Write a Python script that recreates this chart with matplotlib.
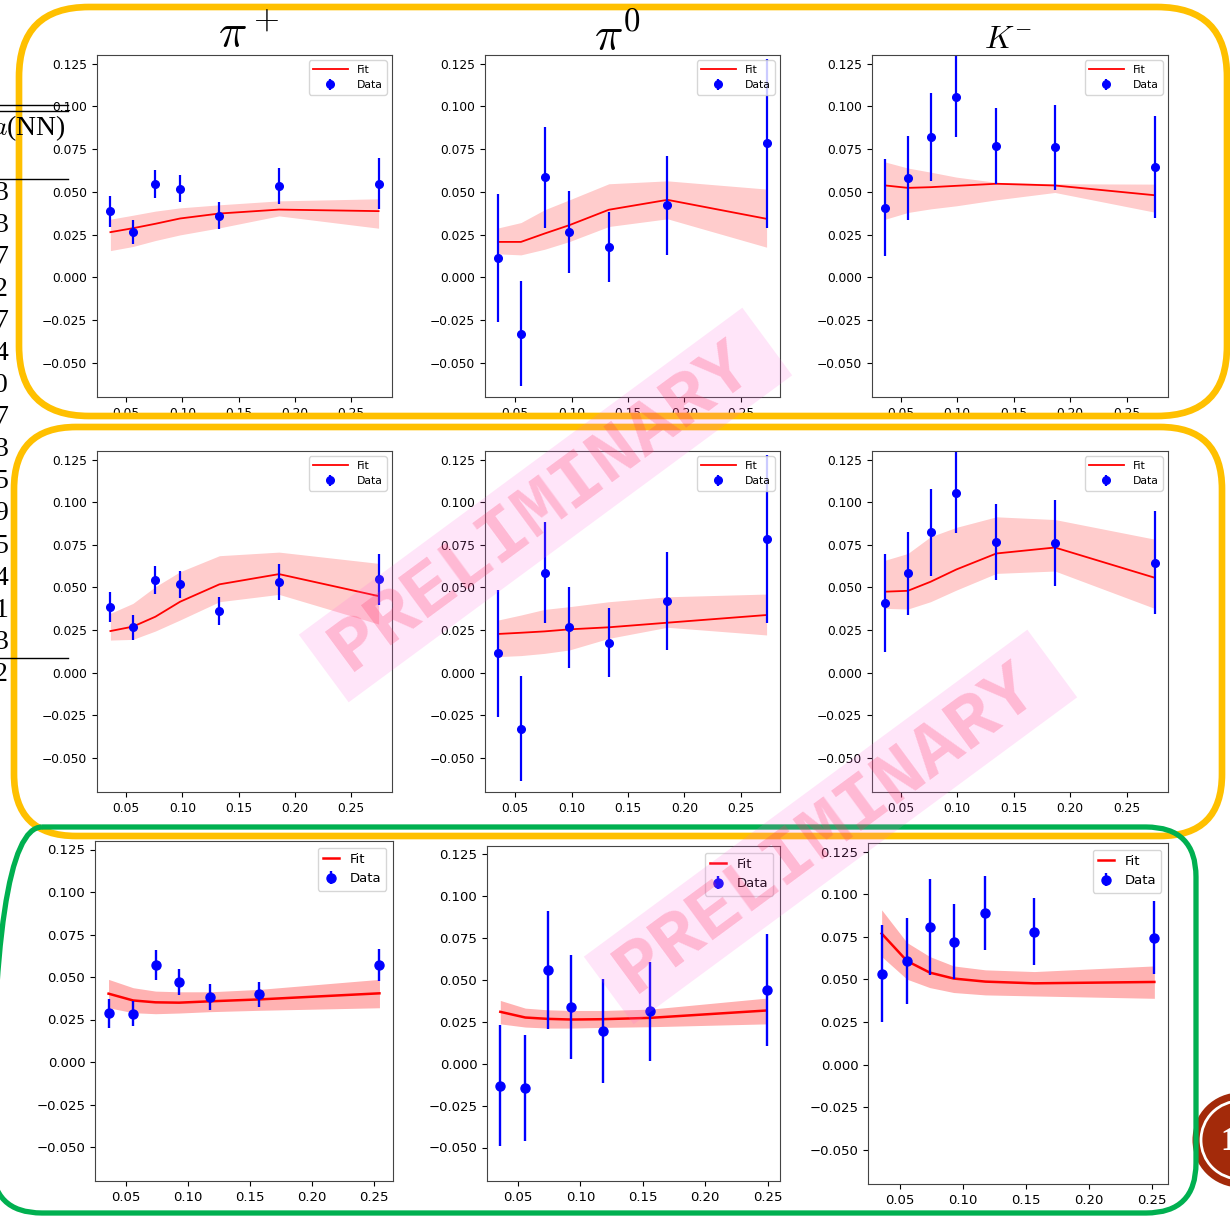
import matplotlib
matplotlib.use("Agg")
import matplotlib.pyplot as plt
from matplotlib.patches import FancyBboxPatch, Rectangle, Circle

plt.rcParams['mathtext.fontset'] = 'cm'

# ---- data ----
x_pip = [0.036, 0.056, 0.076, 0.098, 0.133, 0.186, 0.2746]
x_pi0 = [0.035, 0.055, 0.076, 0.098, 0.133, 0.185, 0.273]
x_km = [0.0364, 0.0562, 0.0763, 0.0991, 0.1346, 0.1864, 0.2746]

y_pip = [0.0385, 0.0266, 0.0545, 0.0518, 0.0361, 0.0533, 0.0547]
e_pip = [0.0088, 0.0072, 0.0081, 0.0078, 0.0080, 0.0106, 0.0150]
y_pi0 = [0.0113, -0.0330, 0.0586, 0.0266, 0.0176, 0.0420, 0.0785]
e_pi0 = [0.0374, 0.0308, 0.0295, 0.0238, 0.0203, 0.0288, 0.0494]
y_km = [0.0408, 0.0582, 0.0822, 0.1055, 0.0768, 0.0760, 0.0646]
e_km = [0.0286, 0.0244, 0.0257, 0.0237, 0.0222, 0.0250, 0.0300]

# row 1 fits
fit1_pip = [0.0264, 0.0287, 0.0313, 0.0344, 0.0373, 0.0396, 0.0387]
hi1_pip = [0.0340, 0.0363, 0.0387, 0.0406, 0.0424, 0.0447, 0.0459]
lo1_pip = [0.0156, 0.0180, 0.0215, 0.0248, 0.0289, 0.0359, 0.0287]
fit1_pi0 = [0.0207, 0.0207, 0.0256, 0.0305, 0.0395, 0.0453, 0.0342]
hi1_pi0 = [0.0289, 0.0320, 0.0395, 0.0453, 0.0547, 0.0564, 0.0516]
lo1_pi0 = [0.0137, 0.0131, 0.0164, 0.0209, 0.0297, 0.0342, 0.0176]
fit1_km = [0.0537, 0.0523, 0.0527, 0.0535, 0.0547, 0.0537, 0.0480]
hi1_km = [0.0674, 0.0639, 0.0615, 0.0586, 0.0555, 0.0547, 0.0545]
lo1_km = [0.0340, 0.0379, 0.0400, 0.0418, 0.0453, 0.0496, 0.0381]

# row 2 fits
fit2_pip = [0.0244, 0.0270, 0.0328, 0.0416, 0.0518, 0.0578, 0.0449]
hi2_pip = [0.0348, 0.0406, 0.0504, 0.0592, 0.0686, 0.0707, 0.0641]
lo2_pip = [0.0191, 0.0195, 0.0244, 0.0309, 0.0416, 0.0459, 0.0285]
fit2_pi0 = [0.0227, 0.0234, 0.0242, 0.0254, 0.0266, 0.0293, 0.0338]
hi2_pi0 = [0.0309, 0.0338, 0.0371, 0.0387, 0.0416, 0.0445, 0.0461]
lo2_pi0 = [0.0094, 0.0100, 0.0113, 0.0133, 0.0201, 0.0266, 0.0221]
fit2_km = [0.0475, 0.0480, 0.0533, 0.0605, 0.0699, 0.0734, 0.0557]
hi2_km = [0.0660, 0.0699, 0.0797, 0.0852, 0.0914, 0.0898, 0.0783]
lo2_km = [0.0377, 0.0373, 0.0416, 0.0484, 0.0582, 0.0596, 0.0377]

# row 3 (different binning)
x3_pip = [0.0358, 0.0556, 0.0737, 0.0927, 0.1177, 0.1570, 0.2543]
y3_pip = [0.0286, 0.0284, 0.0570, 0.0470, 0.0382, 0.0398, 0.0570]
e3_pip = [0.0085, 0.0074, 0.0087, 0.0077, 0.0074, 0.0075, 0.0093]
fit3_pip = [0.0402, 0.0362, 0.0351, 0.0349, 0.0357, 0.0368, 0.0404]
hi3_pip = [0.0486, 0.0437, 0.0417, 0.0413, 0.0413, 0.0427, 0.0486]
lo3_pip = [0.0319, 0.0290, 0.0284, 0.0288, 0.0296, 0.0304, 0.0319]

x3_pi0 = [0.0359, 0.0559, 0.0737, 0.0929, 0.1179, 0.1560, 0.2492]
y3_pi0 = [-0.0131, -0.0145, 0.0558, 0.0340, 0.0197, 0.0314, 0.0439]
e3_pi0 = [0.0361, 0.0318, 0.0352, 0.0310, 0.0310, 0.0296, 0.0333]
fit3_pi0 = [0.0310, 0.0276, 0.0268, 0.0264, 0.0266, 0.0274, 0.0318]
hi3_pi0 = [0.0378, 0.0332, 0.0322, 0.0318, 0.0318, 0.0326, 0.0392]
lo3_pi0 = [0.0238, 0.0219, 0.0213, 0.0213, 0.0217, 0.0221, 0.0238]

x3_km = [0.0357, 0.0558, 0.0738, 0.0928, 0.1179, 0.1567, 0.2518]
y3_km = [0.0534, 0.0608, 0.0808, 0.0722, 0.0892, 0.0780, 0.0745]
e3_km = [0.0284, 0.0250, 0.0283, 0.0220, 0.0217, 0.0198, 0.0212]
fit3_km = [0.0769, 0.0608, 0.0540, 0.0505, 0.0487, 0.0477, 0.0485]
hi3_km = [0.0908, 0.0716, 0.0634, 0.0579, 0.0556, 0.0546, 0.0579]
lo3_km = [0.0634, 0.0501, 0.0452, 0.0423, 0.0409, 0.0403, 0.0389]

xticks = [0.05, 0.10, 0.15, 0.20, 0.25]
yticks = [-0.05, -0.025, 0.0, 0.025, 0.05, 0.075, 0.1, 0.125]
titles = [r'$\pi^+$', r'$\pi^0$', r'$K^{-}$']
table_digits = ['3', '3', '7', '2', '7', '4', '0', '7', '3', '5', '9', '5', '4', '1', '3', '2']

W, H = 1230, 1217
fig = plt.figure(figsize=(W / 100, H / 100), dpi=100)
fig.patch.set_facecolor('white')


def add_ax(l, t, r, b):
    return fig.add_axes([l / W, 1 - b / H, (r - l) / W, (b - t) / H])


def panel(box, x, y, e, fit, lo, hi, big=False):
    ax = add_ax(*box)
    if big:
        ax.fill_between(x, lo, hi, color='red', alpha=0.3, lw=0)
        ax.plot(x, fit, color='red', lw=1.8, label='Fit')
        ax.errorbar(x, y, yerr=e, fmt='o', color='blue', ms=6.5, elinewidth=1.7, label='Data')
        ax.legend(loc='upper right', fontsize=9.5, handlelength=1.2)
        ax.tick_params(labelsize=9.5)
    else:
        ax.fill_between(x, lo, hi, color='red', alpha=0.2, lw=0)
        ax.plot(x, fit, color='red', lw=1.3, label='Fit')
        ax.errorbar(x, y, yerr=e, fmt='o', color='blue', ms=5.5, elinewidth=1.6, label='Data')
        ax.legend(loc='upper right', fontsize=7.8, handlelength=3.2)
        ax.tick_params(labelsize=8.8)
    ax.set_ylim(-0.07, 0.13)
    ax.set_xticks(xticks)
    ax.set_yticks(yticks)
    for s in ax.spines.values():
        s.set_color('#444444')
    return ax


# row 1
panel((97, 55, 392, 397), x_pip, y_pip, e_pip, fit1_pip, lo1_pip, hi1_pip)
panel((485, 55, 780, 397), x_pi0, y_pi0, e_pi0, fit1_pi0, lo1_pi0, hi1_pi0)
panel((872, 55, 1168, 397), x_km, y_km, e_km, fit1_km, lo1_km, hi1_km)
# row 2
panel((97, 451, 392, 792), x_pip, y_pip, e_pip, fit2_pip, lo2_pip, hi2_pip)
panel((485, 451, 780, 792), x_pi0, y_pi0, e_pi0, fit2_pi0, lo2_pi0, hi2_pi0)
panel((872, 451, 1168, 792), x_km, y_km, e_km, fit2_km, lo2_km, hi2_km)
# row 3
panel((95, 841, 393, 1181), x3_pip, y3_pip, e3_pip, fit3_pip, lo3_pip, hi3_pip, big=True)
panel((487, 846, 780, 1181), x3_pi0, y3_pi0, e3_pi0, fit3_pi0, lo3_pi0, hi3_pi0, big=True)
panel((868, 843, 1168, 1184), x3_km, y3_km, e3_km, fit3_km, lo3_km, hi3_km, big=True)

# overlay in pixel coordinates (y down)
ov = fig.add_axes([0, 0, 1, 1])
ov.set_xlim(0, W)
ov.set_ylim(H, 0)
ov.axis('off')

# column titles
ov.text(249, 48, titles[0], fontsize=34, ha='center', va='baseline')
ov.text(618, 50, titles[1], fontsize=34, ha='center', va='baseline')
ov.text(1008, 48, titles[2], fontsize=23, ha='center', va='baseline')

# cut-off table at the left edge of the slide
for yy in [105, 111, 179, 658]:
    ov.plot([0, 68], [yy, yy], color='black', lw=1)
ov.text(66, 128, r'$a$(NN)', fontsize=20, family='Liberation Serif', ha='right', va='center')
for i, d in enumerate(table_digits):
    ov.text(8, 193 + 32.1 * i, d, fontsize=20, family='Liberation Serif', ha='right', va='center')

# page badge bottom right
ov.add_patch(Circle((1240, 1140), 47.5, fc='#A32A0A', ec='none'))
ov.add_patch(Circle((1240, 1140), 39, fill=False, ec='white', lw=2))
ov.text(1220, 1142, '1', color='white', fontsize=24, fontweight='bold',
        family='Liberation Serif', ha='left', va='center')

# rounded boxes
ov.add_patch(FancyBboxPatch((19, 7), 1208, 409, boxstyle='round,pad=0,rounding_size=70',
                            fill=False, ec='#FFC000', lw=4.8))
ov.add_patch(FancyBboxPatch((14, 427), 1208, 409, boxstyle='round,pad=0,rounding_size=62',
                            fill=False, ec='#FFC000', lw=4.8))
ov.add_patch(FancyBboxPatch((-8, 827), 1204, 386, boxstyle='round,pad=0,rounding_size=50',
                            fill=False, ec='#00B050', lw=3.8))

# PRELIMINARY watermarks
for cx, cy in [(545, 505), (830, 827)]:
    ov.add_patch(Rectangle((cx - 275, cy - 42), 551, 84, angle=-36.4, rotation_point='center',
                           fc='#FF66E0', alpha=0.17, ec='none'))
    ov.text(cx - 4, cy + 2, 'PRELIMINARY', family='Liberation Mono', fontsize=55,
            fontweight='bold', color='#FF3366', alpha=0.25, rotation=36.4,
            rotation_mode='anchor', ha='center', va='center')

fig.savefig('out.png', dpi=100)
